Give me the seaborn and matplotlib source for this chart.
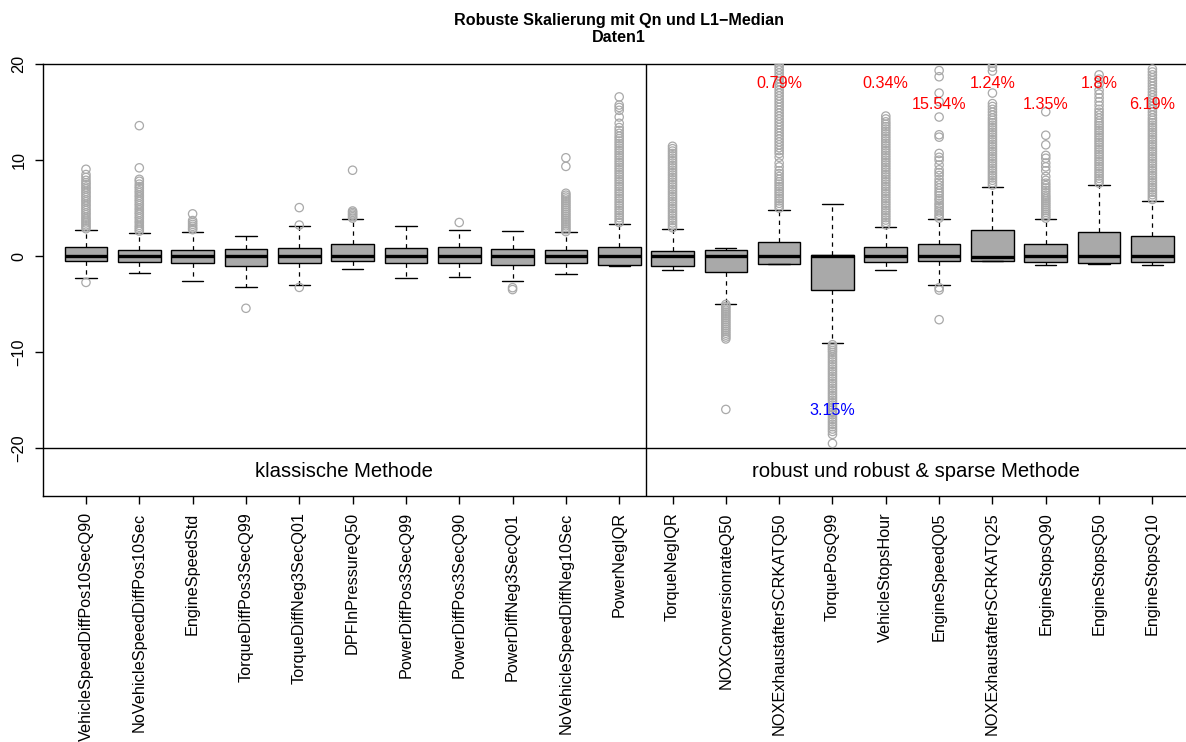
import numpy as np
import pandas as pd
import matplotlib
matplotlib.use("Agg")
import matplotlib.pyplot as plt
import seaborn as sns

# Variablennamen (links klassisch, rechts robust)
names = ["VehicleSpeedDiffPos10SecQ90", "NoVehicleSpeedDiffPos10Sec", "EngineSpeedStd",
         "TorqueDiffPos3SecQ99", "TorqueDiffNeg3SecQ01", "DPFInPressureQ50",
         "PowerDiffPos3SecQ99", "PowerDiffPos3SecQ90", "PowerDiffNeg3SecQ01",
         "NoVehicleSpeedDiffNeg10Sec", "PowerNegIQR", "TorqueNegIQR",
         "NOXConversionrateQ50", "NOXExhaustafterSCRKATQ50", "TorquePosQ99",
         "VehicleStopsHour", "EngineSpeedQ05", "NOXExhaustafterSCRKATQ25",
         "EngineStopsQ90", "EngineStopsQ50", "EngineStopsQ10"]

# Boxplot-Kennzahlen
q1 = [-0.52, -0.63, -0.70, -1.04, -0.73, -0.52, -0.70, -0.70, -0.94, -0.70, -0.94,
      -1.03, -1.66, -0.78, -3.58, -0.58, -0.52, -0.49, -0.65, -0.73, -0.63]
med = [0, 0, 0, 0, 0, 0, 0, 0, 0, 0, 0,
       0, 0, 0, 0.05, 0, 0, -0.05, 0, 0, 0]
q3 = [0.90, 0.66, 0.66, 0.73, 0.83, 1.25, 0.83, 0.97, 0.69, 0.59, 0.93,
      0.53, 0.64, 1.49, 0.15, 0.91, 1.28, 2.67, 1.21, 2.55, 2.06]
whislo = [-2.3, -1.81, -2.6, -3.2, -3.06, -1.35, -2.26, -2.16, -2.64, -1.88, -1.0,
          -1.45, -4.97, -0.85, -9.1, -1.41, -3.04, -0.49, -0.9, -0.88, -0.9]
whishi = [2.67, 2.43, 2.53, 2.11, 3.16, 3.85, 3.09, 2.67, 2.64, 2.46, 3.3,
          2.78, 0.83, 4.79, 5.45, 3.05, 3.85, 7.19, 3.89, 7.36, 5.73]

# Ausreisser je Variable
o1 = [-2.75, 2.85, 3.05, 3.25, 3.45, 3.65, 3.85, 4.05, 4.3, 4.5, 4.75, 4.95, 5.2, 5.4,
      5.65, 5.85, 6.1, 6.3, 6.55, 6.75, 7.0, 7.2, 7.45, 7.65, 7.9, 8.2, 8.5, 9.05]
o2 = [2.6, 2.8, 3.0, 3.2, 3.45, 3.65, 3.9, 4.1, 4.35, 4.55, 4.8, 5.0, 5.25, 5.45, 5.7,
      5.9, 6.15, 6.35, 6.6, 6.8, 7.05, 7.25, 7.5, 7.8, 8.0, 9.2, 13.6]
o3 = [2.75, 2.9, 3.1, 3.3, 3.5, 3.7, 4.4]
o4 = [-5.45]
o5 = [-3.27, 3.23, 5.05]
o6 = [3.95, 4.1, 4.25, 4.4, 4.55, 4.7, 8.95]
o7 = []
o8 = [3.5]
o9 = [-3.3, -3.5]
o10 = [2.55, 2.75, 2.95, 3.15, 3.35, 3.55, 3.75, 3.95, 4.15, 4.35, 4.55, 4.75, 4.95,
       5.15, 5.35, 5.55, 5.75, 5.95, 6.15, 6.35, 6.55, 9.35, 10.25]
o11 = [3.5, 3.75, 4.0, 4.25, 4.5, 4.75, 5.0, 5.25, 5.5, 5.75, 6.0, 6.25, 6.5, 6.75,
       7.0, 7.25, 7.5, 7.75, 8.0, 8.25, 8.5, 8.75, 9.0, 9.25, 9.5, 9.75, 10.0, 10.25,
       10.5, 10.75, 11.0, 11.25, 11.5, 11.75, 12.0, 12.25, 12.5, 12.8, 13.1, 13.4,
       13.85, 14.5, 15.2, 15.5, 15.75, 16.6]
o12 = [2.95, 3.2, 3.45, 3.7, 3.95, 4.2, 4.45, 4.7, 4.95, 5.2, 5.45, 5.7, 5.95, 6.2,
       6.45, 6.7, 6.95, 7.2, 7.45, 7.7, 7.95, 8.2, 8.45, 8.7, 8.95, 9.2, 9.45, 9.7,
       9.95, 10.2, 10.45, 10.7, 10.95, 11.2, 11.45]
o13 = [-5.05, -5.25, -5.45, -5.65, -5.85, -6.05, -6.25, -6.45, -6.65, -6.85, -7.05,
       -7.25, -7.45, -7.65, -7.85, -8.05, -8.25, -8.45, -8.65, -16.0]
o14 = [5.0, 5.25, 5.5, 5.75, 6.0, 6.25, 6.5, 6.75, 7.0, 7.25, 7.5, 7.75, 8.0, 8.3,
       8.6, 8.9, 9.3, 9.7, 10.3, 10.7, 11.0, 11.3, 11.6, 11.9, 12.2, 12.5, 12.8, 13.1,
       13.4, 13.7, 14.0, 14.3, 14.6, 14.9, 15.2, 15.5, 15.8, 16.1, 16.4, 16.7, 17.0,
       17.3, 17.6, 17.9, 18.2, 18.5, 18.8, 19.1, 19.4, 19.7, 20.0, 20.4]
o15 = [-9.25, -9.45, -9.65, -9.85, -10.05, -10.3, -10.55, -10.8, -11.05, -11.3, -11.55,
       -11.8, -12.05, -12.3, -12.55, -12.8, -13.05, -13.3, -13.55, -13.8, -14.05, -14.3,
       -14.55, -14.8, -15.05, -15.3, -15.55, -15.8, -16.05, -16.3, -16.55, -16.8,
       -17.05, -17.3, -17.55, -17.8, -18.05, -18.3, -18.6, -19.55]
o16 = [3.25, 3.5, 3.75, 4.0, 4.25, 4.5, 4.75, 5.0, 5.25, 5.5, 5.75, 6.0, 6.25, 6.5,
       6.75, 7.0, 7.25, 7.5, 7.75, 8.0, 8.25, 8.5, 8.75, 9.0, 9.25, 9.5, 9.75, 10.0,
       10.25, 10.5, 10.75, 11.0, 11.25, 11.5, 11.75, 12.0, 12.25, 12.5, 12.75, 13.0,
       13.25, 13.5, 13.75, 14.0, 14.3, 14.6]
o17 = [-3.3, -3.55, -6.64, 3.95, 4.15, 4.35, 4.6, 4.8, 5.05, 5.3, 5.5, 5.8, 6.0, 6.3,
       6.55, 6.8, 7.1, 7.4, 7.7, 8.0, 8.4, 8.7, 9.0, 9.5, 10.0, 10.3, 10.7, 12.4,
       12.65, 14.5, 16.1, 17.0, 18.7, 19.35]
o18 = [7.4, 7.65, 7.9, 8.15, 8.4, 8.65, 8.9, 9.15, 9.4, 9.65, 9.9, 10.15, 10.4, 10.65,
       10.9, 11.15, 11.4, 11.65, 11.9, 12.15, 12.4, 12.65, 12.9, 13.15, 13.4, 13.65,
       13.9, 14.15, 14.4, 14.7, 15.0, 15.3, 15.6, 15.9, 17.0, 19.3, 19.7, 20.1]
o19 = [3.95, 4.15, 4.35, 4.55, 4.75, 4.95, 5.15, 5.35, 5.55, 5.75, 5.95, 6.15, 6.35,
       6.6, 6.85, 7.1, 7.35, 7.6, 7.9, 8.3, 8.9, 9.3, 9.7, 10.2, 10.5, 11.6, 12.6, 15.05]
o20 = [7.6, 7.85, 8.1, 8.35, 8.6, 8.85, 9.1, 9.35, 9.6, 9.85, 10.1, 10.35, 10.6, 10.85,
       11.1, 11.35, 11.6, 11.85, 12.1, 12.35, 12.6, 12.85, 13.1, 13.35, 13.6, 13.85,
       14.1, 14.4, 14.7, 15.0, 15.3, 15.7, 16.1, 16.5, 16.9, 17.3, 17.9, 18.45, 18.9]
o21 = [5.9, 6.15, 6.4, 6.65, 6.9, 7.15, 7.4, 7.65, 7.9, 8.15, 8.4, 8.65, 8.9, 9.15,
       9.4, 9.65, 9.9, 10.15, 10.4, 10.65, 10.9, 11.15, 11.4, 11.65, 11.9, 12.15, 12.4,
       12.65, 12.9, 13.15, 13.4, 13.65, 13.9, 14.15, 14.4, 14.7, 15.0, 15.3, 15.6, 15.9,
       16.2, 16.5, 16.8, 17.1, 17.4, 17.7, 18.0, 18.3, 18.6, 18.9, 19.2, 19.5]
outliers = [o1, o2, o3, o4, o5, o6, o7, o8, o9, o10, o11, o12, o13, o14, o15, o16,
            o17, o18, o19, o20, o21]

# Prozentangaben ueber/unter den Boxen
pct_labels = ["0.79%", "3.15%", "0.34%", "15.54%", "1.24%", "1.35%", "1.8%", "6.19%"]
pct_box = [14, 15, 16, 17, 18, 19, 20, 21]
pct_y = [18, -16.1, 18, 15.8, 18, 15.8, 18, 15.8]
pct_col = ["red", "blue", "red", "red", "red", "red", "red", "red"]

n_klass = 11

sns.set_theme(style="ticks")
plt.rcParams["font.family"] = ["Liberation Sans", "DejaVu Sans"]
plt.rcParams["text.color"] = "black"
plt.rcParams["xtick.color"] = "black"
plt.rcParams["ytick.color"] = "black"
plt.rcParams["xtick.labelcolor"] = "black"
plt.rcParams["ytick.labelcolor"] = "black"

fig = plt.figure(figsize=(11.86, 7.42), dpi=100)
ax = fig.add_axes([43 / 1186, 1 - 495.7 / 742, 1 - 43 / 1186, (495.7 - 64.3) / 742])

pos = np.arange(1, len(names) + 1)
stats = []
for i in range(len(names)):
    stats.append({"med": med[i], "q1": q1[i], "q3": q3[i],
                  "whislo": whislo[i], "whishi": whishi[i], "fliers": []})

ax.bxp(stats, positions=pos, widths=0.8, patch_artist=True, showfliers=False,
       boxprops=dict(facecolor="#A9A9A9", edgecolor="black", linewidth=1.0),
       medianprops=dict(color="black", linewidth=2.4, solid_capstyle="butt"),
       whiskerprops=dict(color="black", linewidth=0.9, linestyle=(0, (3.5, 3.5))),
       capprops=dict(color="black", linewidth=1.0))

df = pd.DataFrame({"pos": np.concatenate([[p] * len(o) for p, o in zip(pos, outliers)]),
                   "wert": np.concatenate([np.asarray(o, dtype=float) for o in outliers])})
sns.scatterplot(data=df, x="pos", y="wert", ax=ax, marker="o", s=36,
                facecolors="none", edgecolor="#A9A9A9", linewidth=0.9, zorder=3,
                legend=False)

ax.axhline(-20, color="black", linewidth=1.0)
ax.axvline(n_klass + 0.5, color="black", linewidth=1.0)

for b, t, y, c in zip(pct_box, pct_labels, pct_y, pct_col):
    ax.text(b, y, t, color=c, ha="center", va="center", fontsize=11.6, zorder=5)

ax.text((0.194 + n_klass + 0.5) / 2, -22.5, "klassische Methode",
        ha="center", va="center", fontsize=14.6, color="black")
ax.text((n_klass + 0.5 + 21.63) / 2, -22.5, "robust und robust & sparse Methode",
        ha="center", va="center", fontsize=14.6, color="black")

ax.set_xlim(0.194, 21.63)
ax.set_ylim(-25, 20)
ax.set_xticks(pos)
ax.set_xticklabels(names, rotation=90, fontsize=11.7)
ax.set_yticks([-20, -10, 0, 10, 20])
ax.set_yticklabels(["\u221220", "\u221210", "0", "10", "20"], rotation=90,
                   va="center", fontsize=11.7)
ax.set_xlabel("")
ax.set_ylabel("")
ax.tick_params(axis="both", length=6, width=1.0, color="black", labelcolor="black", pad=6)
ax.spines["right"].set_visible(False)
for s in ["left", "bottom", "top"]:
    ax.spines[s].set_color("black")
    ax.spines[s].set_linewidth(1.0)

fig.text(619 / 1186, 1 - 21 / 742, "Robuste Skalierung mit Qn und L1\u2212Median",
         ha="center", va="center", fontsize=11.6, fontweight="bold", color="black")
fig.text(619 / 1186, 1 - 37 / 742, "Daten1",
         ha="center", va="center", fontsize=11.6, fontweight="bold", color="black")

fig.savefig("out.png", dpi=100)
